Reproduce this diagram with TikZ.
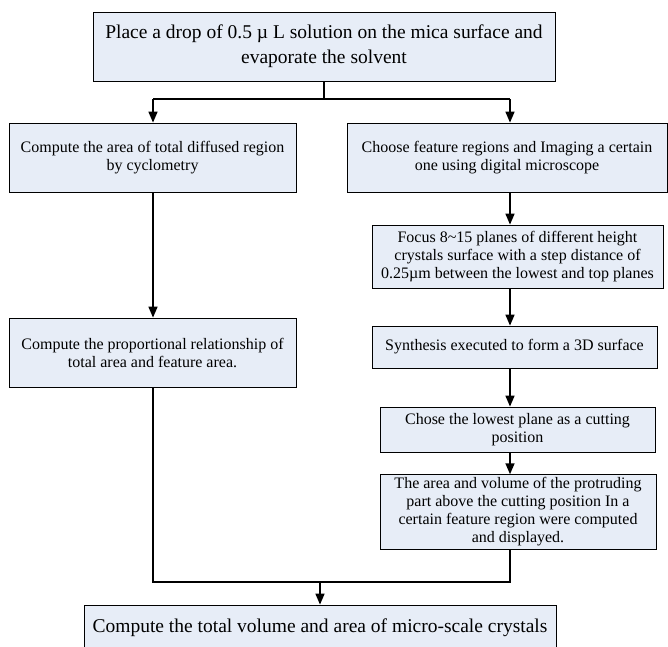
\documentclass[tikz,border=0pt]{standalone}
\usepackage{fontspec}
\setmainfont{Liberation Serif}
\usepackage{tikz}
\usepackage{xcolor}
\usetikzlibrary{
    arrows.meta,
    shadows,
    calc,
    positioning
}
\definecolor{boxfill}{RGB}{231,237,247}

\begin{document}
\begin{tikzpicture}[x=1pt, y=-1pt,
        procbox/.style={draw=black, thick, fill=boxfill, align=center, inner sep=3pt,
            font=\fontsize{16}{18}\selectfont,
            drop shadow={shadow xshift=1pt, shadow yshift=-1pt, fill=black!45, opacity=1}},
        bigbox/.style={procbox, font=\fontsize{19.5}{25}\selectfont},
        wire/.style={line width=1.6pt},
        flow/.style={wire, -{Triangle[length=11pt, width=9pt]}}]
                        \useasboundingbox (0, 0) rectangle (668, 646);

                        \node[bigbox, minimum width=462pt, minimum height=69pt] (drop) at (324, 46.5)
                            {Place a drop of 0.5 µ L solution on the mica surface and\\evaporate the solvent};
                        \node[procbox, minimum width=287pt, minimum height=69pt] (cyclo) at (152.5, 157.5)
                            {Compute the area of total diffused region\\by cyclometry};
                        \node[procbox, minimum width=320pt, minimum height=69pt] (choose) at (507, 157.5)
                            {Choose feature regions and Imaging a certain\\one using digital microscope};
                        \node[procbox, minimum width=287pt, minimum height=69pt] (ratio) at (152.5, 352.5)
                            {Compute the proportional relationship of\\total area and feature area.};
                        \node[procbox, minimum width=291pt, minimum height=63pt] (focus) at (517.5, 256.5)
                            {Focus 8\textasciitilde15 planes of different height\\crystals surface with a step distance of\\0.25µm between the lowest and top planes};
                        \node[procbox, minimum width=285pt, minimum height=42pt] (synth) at (514.5, 347)
                            {Synthesis executed to form a 3D surface};
                        \node[procbox, minimum width=275pt, minimum height=45pt] (cutpos) at (517.5, 429.5)
                            {Chose the lowest plane as a cutting\\position};
                        \node[procbox, minimum width=276pt, minimum height=70pt] (protrude) at (518, 512)
                            {The area and volume of the protruding\\part above the cutting position In a\\certain feature region were computed\\and displayed.};
                        \node[bigbox, minimum width=472pt, minimum height=46pt] (total) at (320, 628)
                            {Compute the total volume and area of micro-scale crystals};

                        % spines of the two columns
                        \coordinate (lcol) at (153, 0);
                        \coordinate (rcol) at (510, 0);
                        \coordinate (split) at (0, 99);
                        \coordinate (join) at (0, 582);

                        \draw[wire] (drop.south) -- (drop.south |- split);
                        \draw[wire] (lcol |- split) -- (rcol |- split);
                        \draw
                        (lcol |- split) edge[flow] (cyclo.north -| lcol)
                        (rcol |- split) edge[flow] (choose.north -| rcol)
                        (cyclo.south -| lcol) edge[flow] (ratio.north -| lcol)
                        (choose.south -| rcol) edge[flow] (focus.north -| rcol)
                        (focus.south -| rcol) edge[flow] (synth.north -| rcol)
                        (synth.south -| rcol) edge[flow] (cutpos.north -| rcol)
                        (cutpos.south -| rcol) edge[flow] (protrude.north -| rcol);
                        \draw[wire] (ratio.south -| lcol) -- (lcol |- join) -- (rcol |- join) -- (protrude.south -| rcol);
                        \draw[flow] (total.north |- join) -- (total.north);
                    \end{tikzpicture}
\end{document}
